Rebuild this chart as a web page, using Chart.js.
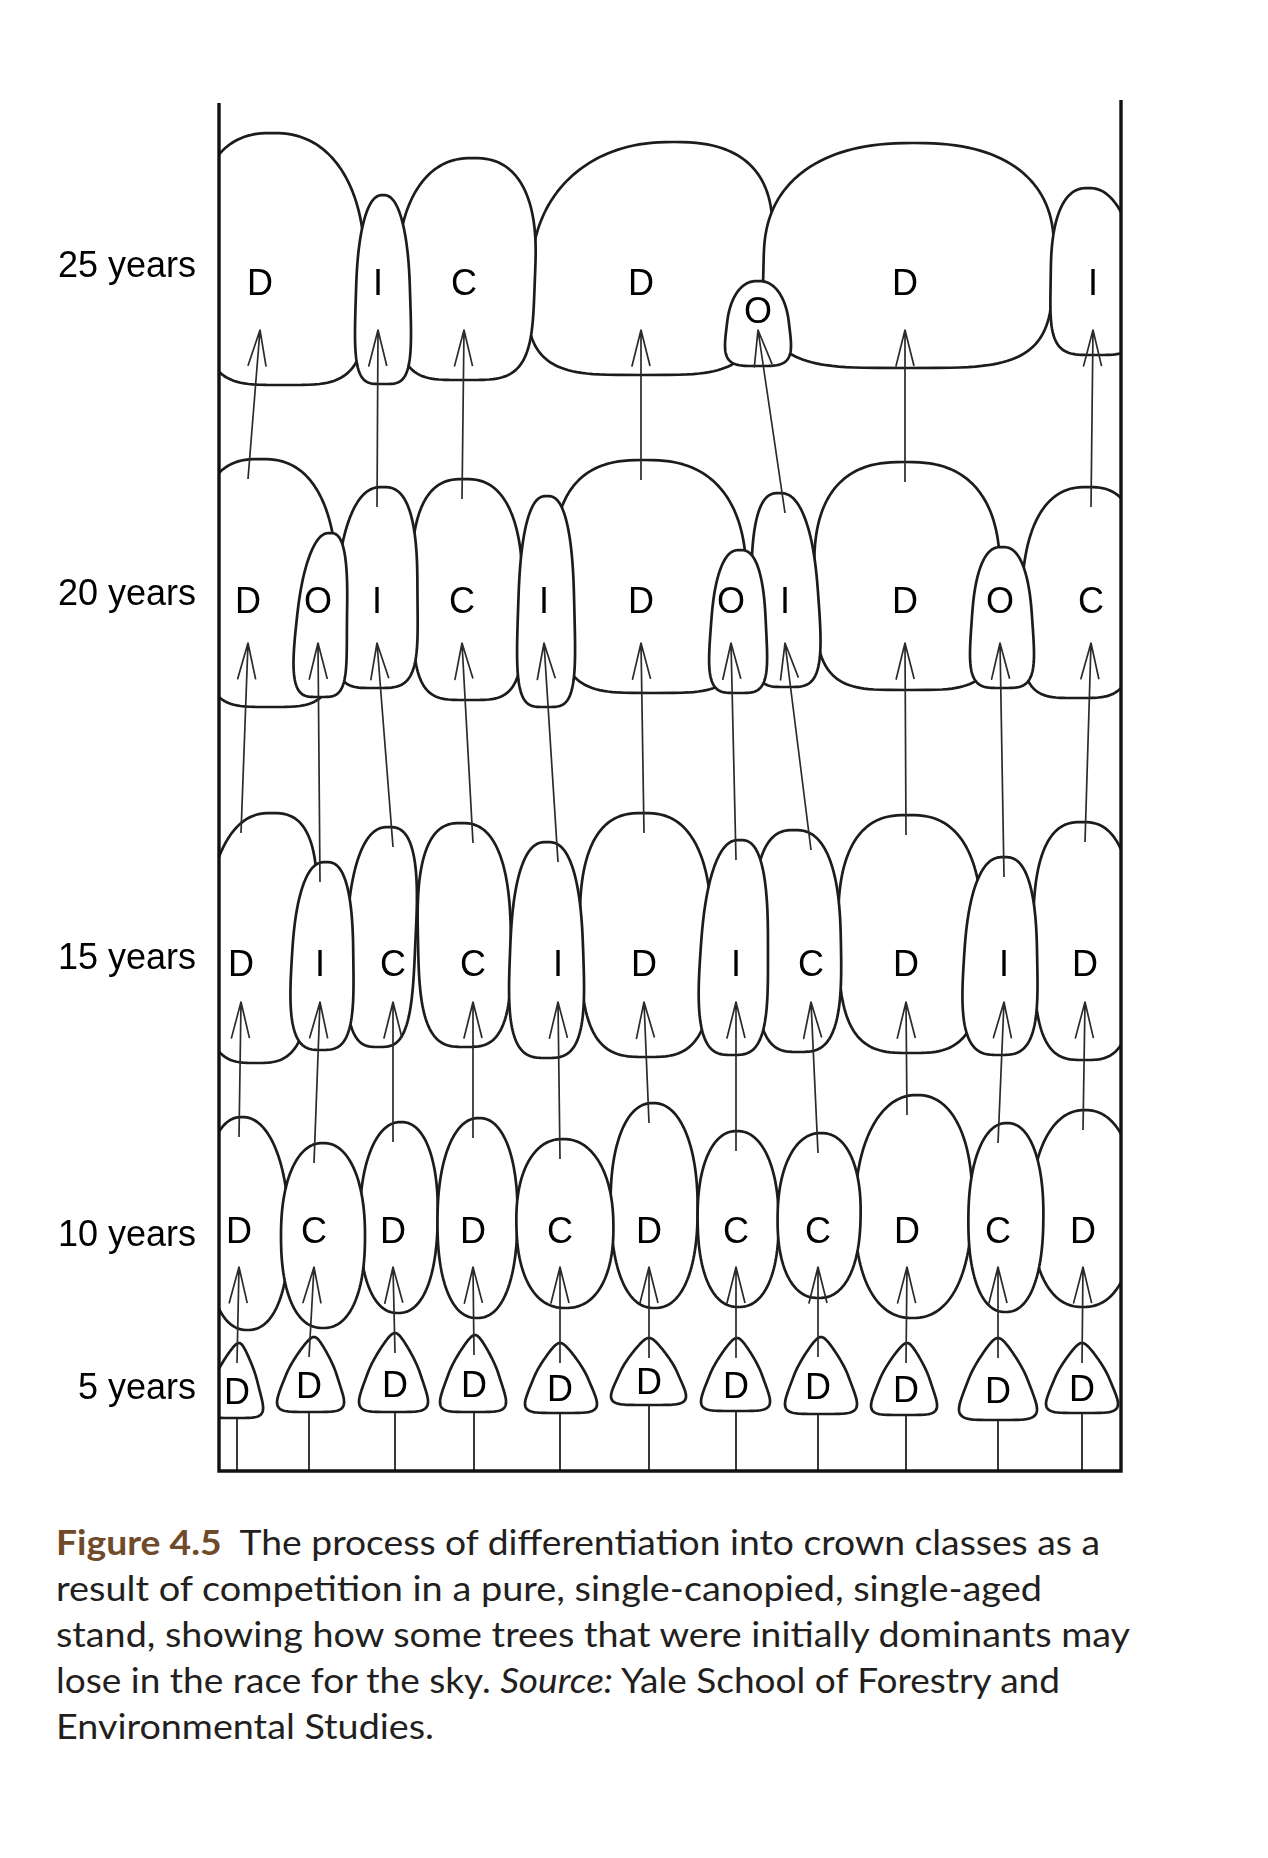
<!DOCTYPE html>
<html lang="en">
<head>
<meta charset="UTF-8">
<title>Crown class differentiation</title>
<script src="https://cdn.jsdelivr.net/npm/chart.js@4.4.1/dist/chart.umd.min.js"></script>
<style>
  html, body { margin: 0; padding: 0; background: #fff; }
  body { width: 1268px; height: 1858px; position: relative; overflow: hidden; }
  #wrap { position: absolute; left: 0; top: 0; width: 1268px; height: 1500px; }
  #caption {
    position: absolute; left: 56px; top: 1518px;
    font-family: Lato, "Noto Sans", sans-serif; font-size: 35px; line-height: 46px;
    color: #231f20;
  }
  #caption .ln { white-space: nowrap; width: max-content; transform-origin: 0 50%; }
  #caption .fig { color: #6f4a2b; font-weight: bold; }
</style>
</head>
<body>
<div id="wrap"><canvas id="chart" width="1268" height="1500"></canvas></div>
<div id="caption">
  <div class="ln" data-w="1044"><span class="fig">Figure 4.5</span>&nbsp; The process of differentiation into crown classes as a</div>
  <div class="ln" data-w="986">result of competition in a pure, single-canopied, single-aged</div>
  <div class="ln" data-w="1074">stand, showing how some trees that were initially dominants may</div>
  <div class="ln" data-w="1004">lose in the race for the sky. <i>Source:</i> Yale School of Forestry and</div>
  <div class="ln" data-w="378">Environmental Studies.</div>
</div>
<script>
// x: distance across the stand, y: height above ground (drawing units)
const yearLabels = ['5 years', '10 years', '15 years', '20 years', '25 years'];
const yearTicks = [82, 235, 512, 876, 1204];

// one row per age, one column per tree (null = tree gone)
const crownClasses = [
  ['D', 'D', 'D', 'D', 'D', 'D', 'D', 'D', 'D', 'D', 'D'],
  ['D', 'C', 'D', 'D', 'C', 'D', 'C', 'C', 'D', 'C', 'D'],
  ['D', 'I', 'C', 'C', 'I', 'D', 'I', 'C', 'D', 'I', 'D'],
  ['D', 'O', 'I', 'C', 'I', 'D', 'O', 'I', 'D', 'O', 'C'],
  ['D', null, 'I', 'C', null, 'D', null, 'O', 'D', null, 'I']
];
const stemX = [
  [18, 90, 176, 255, 341, 430, 517, 599, 687, 779, 863],
  [20, 95, 174, 254, 341, 430, 517, 599, 688, 779, 864],
  [22, 101, 174, 254, 339, 425, 517, 592, 687, 785, 866],
  [29, 99, 158, 243, 325, 422, 512, 566, 686, 781, 872],
  [41, null, 159, 245, null, 422, null, 539, 686, null, 874]
];
const crownLeft = [
  [-14, 58, 140, 221, 306, 392, 482, 566, 652, 740, 827],
  [-14, 62, 140, 218, 298, 392, 479, 558, 635, 749, 812],
  [-19, 71, 125, 200, 290, 362, 479, 536, 620, 743, 815],
  [-19, 74, 114, 194, 298, 338, 490, 533, 596, 751, 800],
  [-19, null, 136, 176, null, 305, null, 506, 543, null, 832]
];
const crownRight = [
  [44, 125, 209, 287, 378, 467, 551, 638, 718, 818, 899],
  [71, 146, 218, 298, 395, 479, 560, 641, 752, 824, 916],
  [92, 134, 194, 293, 365, 494, 548, 623, 764, 818, 916],
  [121, 127, 198, 305, 356, 530, 548, 602, 782, 815, 916],
  [149, null, 192, 314, null, 543, null, 572, 833, null, 921]
];
const crownTop = [
  [128, 134, 138, 136, 128, 133, 133, 134, 128, 133, 128],
  [354, 328, 349, 353, 332, 368, 340, 338, 376, 348, 361],
  [658, 609, 644, 648, 629, 658, 631, 641, 656, 614, 649],
  [1012, 938, 984, 992, 975, 1011, 921, 978, 1009, 924, 984],
  [1338, null, 1276, 1313, null, 1329, null, 1190, 1328, null, 1283]
];
const crownBottom = [
  [53, 59, 59, 59, 58, 66, 60, 57, 56, 51, 58],
  [141, 143, 158, 153, 163, 163, 164, 173, 153, 159, 164],
  [408, 421, 424, 424, 413, 414, 416, 419, 418, 416, 411],
  [764, 774, 783, 771, 764, 778, 778, 784, 781, 783, 773],
  [1086, null, 1087, 1091, null, 1096, null, 1105, 1103, null, 1116]
];
const crownPeak = [
  [20, 95, 176, 256, 341, 430, 518, 602, 688, 779, 863],
  [23, 104, 182, 260, 344, 434, 518, 602, 698, 788, 866],
  [53, 107, 170, 242, 328, 424, 521, 575, 689, 785, 863],
  [41, 111, 164, 245, 328, 425, 521, 560, 686, 783, 869],
  [53, null, 164, 254, null, 455, null, 539, 695, null, 869]
];
const arrowHeadY = [null, 204, 469, 828, 1141];
const labelRowY = [null, 241, 508, 871, 1189];
const standWidth = 902;
const frameTop = [1368, 1371];

// outline look per age row
const shapeStyle = [
  { nTop: 2.0, nBot: 5.0, taper: 0.3 },
  { nTop: 2.2, nBot: 2.3, taper: 1 },
  { nTop: 2.6, nBot: 3.2, taper: 1 },
  { nTop: 2.6, nBot: 4.0, taper: 1 },
  { nTop: 2.4, nBot: 4.0, taper: 1 }
];
const drawRank = { D: 0, C: 1, I: 2, O: 3 };

function crownOutline(L, R, T, B, P, st) {
  const raw = [];
  const N = 140;
  for (let j = 0; j < N; j++) {
    const t = 2 * Math.PI * j / N;
    const u = Math.cos(t), v = Math.sin(t);
    const n = v < 0 ? st.nTop : st.nBot;
    const xr = Math.sign(u) * Math.pow(Math.abs(u), 2 / n);
    const yr = Math.sign(v) * Math.pow(Math.abs(v), 2 / n);
    const s = (yr + 1) / 2;
    raw.push([xr * (st.taper + (1 - st.taper) * s), s]);
  }
  const xs = raw.map(p => p[0]);
  const mn = Math.min(...xs), mx = Math.max(...xs);
  const cx = (L + R) / 2;
  return raw.map(([px, s]) => [
    L + (px - mn) / (mx - mn) * (R - L) + (P - cx) * (1 - s) * (1 - s),
    T + s * (B - T)
  ]);
}

const crownPlugin = {
  id: 'crowns',
  beforeDatasetsDraw(chart) {
    const { ctx, chartArea, scales: { x, y } } = chart;
    ctx.save();
    ctx.beginPath();
    ctx.rect(chartArea.left, 0, chartArea.right - chartArea.left, chart.height);
    ctx.clip();
    ctx.lineWidth = 2.7;
    ctx.strokeStyle = '#1c1c1c';
    ctx.fillStyle = '#fff';
    ctx.lineJoin = 'round';
    crownClasses.forEach((row, k) => {
      const order = row.map((c, i) => i).filter(i => row[i])
        .sort((a, b) => drawRank[row[a]] - drawRank[row[b]] || a - b);
      order.forEach(i => {
        const st = Object.assign({}, shapeStyle[k]);
        if (k > 1 && row[i] === 'I') st.taper = 0.8;
        if (k > 1 && row[i] === 'O') st.taper = 0.72;
        const pts = crownOutline(
          x.getPixelForValue(crownLeft[k][i]), x.getPixelForValue(crownRight[k][i]),
          y.getPixelForValue(crownTop[k][i]), y.getPixelForValue(crownBottom[k][i]),
          x.getPixelForValue(crownPeak[k][i]), st);
        ctx.beginPath();
        pts.forEach((p, j) => j ? ctx.lineTo(p[0], p[1]) : ctx.moveTo(p[0], p[1]));
        ctx.closePath();
        ctx.fill();
        ctx.stroke();
      });
    });
    ctx.restore();
  },
  afterDatasetsDraw(chart) {
    const { ctx, scales: { x, y } } = chart;
    ctx.save();
    ctx.fillStyle = '#000';
    ctx.font = '36px "Liberation Sans", Arial, sans-serif';
    ctx.textAlign = 'center';
    ctx.textBaseline = 'alphabetic';
    crownClasses.forEach((row, k) => row.forEach((c, i) => {
      if (!c) return;
      const h = crownTop[k][i] - crownBottom[k][i];
      const ly = k === 0 ? crownTop[k][i] - 0.64 * h
                         : Math.min(labelRowY[k], crownTop[k][i] - 0.34 * h);
      ctx.fillText(c, x.getPixelForValue(stemX[k][i]), y.getPixelForValue(ly) + 13);
    }));
    ctx.restore();
  }
};

const lineBase = { showLine: true, pointRadius: 0, pointHoverRadius: 0, fill: false, tension: 0, clip: false };
const datasets = [];

datasets.push(Object.assign({}, lineBase, {
  data: [{ x: 0, y: frameTop[0] }, { x: 0, y: 0 }, { x: standWidth, y: 0 }, { x: standWidth, y: frameTop[1] }],
  borderColor: '#111', borderWidth: 3.4, borderJoinStyle: 'miter'
}));

// stems from the ground to the 5-year crowns
stemX[0].forEach((sx, i) => {
  datasets.push(Object.assign({}, lineBase, {
    data: [{ x: sx, y: 0 }, { x: sx, y: crownBottom[0][i] }],
    borderColor: '#222', borderWidth: 1.8
  }));
});

// arrows from each crown to the same tree five years later
for (let k = 0; k < 4; k++) {
  for (let i = 0; i < stemX[k].length; i++) {
    if (stemX[k + 1][i] == null) continue;
    const tail = { x: stemX[k][i], y: crownTop[k][i] - 20 };
    const head = { x: stemX[k + 1][i], y: arrowHeadY[k + 1] };
    const dx = head.x - tail.x, dy = head.y - tail.y;
    const len = Math.hypot(dx, dy), ux = dx / len, uy = dy / len;
    const bl = 36, bw = 9;
    const b1 = { x: head.x - ux * bl - uy * bw, y: head.y - uy * bl + ux * bw };
    const b2 = { x: head.x - ux * bl + uy * bw, y: head.y - uy * bl - ux * bw };
    datasets.push(Object.assign({}, lineBase, {
      data: [tail, head, b1, head, b2],
      borderColor: '#2b2b2b', borderWidth: 1.7, borderJoinStyle: 'round'
    }));
  }
}

new Chart(document.getElementById('chart'), {
  type: 'scatter',
  data: { datasets },
  options: {
    responsive: false,
    animation: false,
    events: [],
    layout: { padding: { top: 100, right: 147, bottom: 29, left: 0 } },
    plugins: { legend: { display: false }, tooltip: { enabled: false } },
    scales: {
      x: { type: 'linear', min: 0, max: standWidth, display: false },
      y: {
        type: 'linear', min: 0, max: 1371,
        afterFit(scale) {
          scale.width = 219;
          scale.paddingTop = 0;
          scale.paddingBottom = 0;
        },
        afterBuildTicks(scale) { scale.ticks = yearTicks.map(v => ({ value: v })); },
        grid: { display: false, drawTicks: false },
        border: { display: false },
        ticks: {
          autoSkip: false, padding: 23, color: '#000',
          font: { family: '"Liberation Sans", Arial, sans-serif', size: 36 },
          callback: (v, idx) => yearLabels[idx]
        }
      }
    }
  },
  plugins: [crownPlugin]
});

function fitCaption() {
  document.querySelectorAll('#caption .ln').forEach(el => {
    el.style.transform = 'none';
    const w = el.getBoundingClientRect().width;
    const target = parseFloat(el.dataset.w);
    el.style.transform = 'scaleX(' + (target / w).toFixed(4) + ')';
  });
}
fitCaption();
if (document.fonts && document.fonts.ready) document.fonts.ready.then(fitCaption);
</script>
</body>
</html>
